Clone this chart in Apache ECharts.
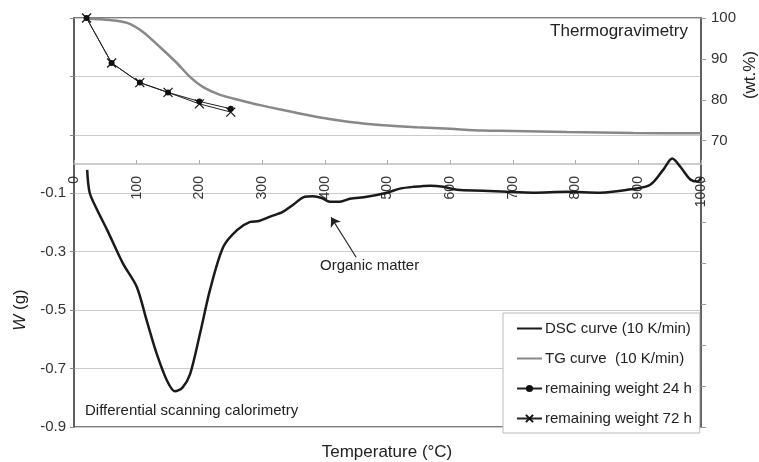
<!DOCTYPE html>
<html>
<head>
<meta charset="utf-8">
<script src="https://cdn.jsdelivr.net/npm/echarts@6/dist/echarts.min.js"></script>
<style>
  html, body { margin: 0; padding: 0; background: #fff; }
  #main { width: 759px; height: 462px; }
</style>
</head>
<body>
<div id="main"></div>
<script>
// DSC curve (left axis, W in g)
var dscTemp = [21, 25, 37, 53, 78, 100, 116, 132, 148, 161, 173, 185, 201, 217, 238, 260, 281, 295, 313, 333, 349, 368, 381, 395, 408, 424, 440, 467, 499, 520, 541, 568, 589, 611, 652, 691, 732, 786, 839, 892, 919, 940, 954, 967, 983, 994, 1000];
var dscW = [-0.02, -0.098, -0.157, -0.226, -0.34, -0.42, -0.536, -0.65, -0.74, -0.778, -0.765, -0.72, -0.58, -0.43, -0.284, -0.226, -0.198, -0.195, -0.18, -0.164, -0.14, -0.112, -0.11, -0.116, -0.129, -0.129, -0.119, -0.112, -0.098, -0.084, -0.078, -0.074, -0.078, -0.088, -0.091, -0.095, -0.098, -0.095, -0.098, -0.085, -0.071, -0.019, 0.019, -0.009, -0.053, -0.06, -0.047];

// TG curve (right axis, wt.%)
var tgTemp = [21, 57, 85, 110, 137, 164, 185, 206, 233, 265, 297, 333, 388, 440, 493, 547, 600, 652, 700, 786, 892, 1000];
var tgWt = [99.8, 99.5, 98.8, 96.6, 92.9, 89, 85.6, 83.1, 81.2, 79.9, 78.7, 77.5, 75.8, 74.6, 73.8, 73.3, 72.9, 72.5, 72.4, 72.1, 71.9, 71.8];

// remaining weight after storage
var rwTemp = [20, 60, 105, 150, 200, 250];
var rw24 = [100, 89, 84.2, 81.8, 79.6, 77.8];
var rw72 = [100, 89, 84.2, 81.8, 79.0, 77.0];

var xTicks = [0, 100, 200, 300, 400, 500, 600, 700, 800, 900, 1000];

function pairs(xs, ys) {
    var out = [];
    for (var i = 0; i < xs.length; i++) out.push([xs[i], ys[i]]);
    return out;
}

var font = "'Liberation Sans', Arial, sans-serif";
var myChart = echarts.init(document.getElementById('main'));

// plot height 409px, left axis -0.9..0.5 -> zero line sits 263px above the bottom
var zeroOffset = -409 * 0.9 / 1.4;

var option = {
    animation: false,
    textStyle: { fontFamily: font },
    grid: {
        left: 74, right: 58, top: 18, bottom: 35,
        show: true, borderColor: '#555', borderWidth: 1.5
    },
    legend: {
        left: 503, top: 313,
        orient: 'vertical',
        backgroundColor: '#fff',
        borderColor: '#bbb', borderWidth: 1,
        padding: [8, 8, 7, 13],
        itemGap: 15,
        itemWidth: 25, itemHeight: 9,
        textStyle: { fontSize: 15, color: '#222', fontFamily: font, padding: [0, 0, 0, -2] },
        data: [
            { name: 'DSC curve (10 K/min)', itemStyle: { opacity: 0 } },
            { name: 'TG curve  (10 K/min)', itemStyle: { opacity: 0 } },
            { name: 'remaining weight 24 h' },
            { name: 'remaining weight 72 h' }
        ]
    },
    xAxis: [
        {
            type: 'value',
            min: 0, max: 1000, interval: 100,
            axisLine: { show: false },
            axisTick: { show: false },
            axisLabel: { show: false },
            splitLine: { show: false }
        },
        {
            type: 'value',
            position: 'bottom',
            offset: zeroOffset,
            min: 0, max: 1000, interval: 100,
            axisLine: { show: true, onZero: false, lineStyle: { color: '#bbb', width: 1.5 } },
            axisTick: { show: true, inside: true, length: 4, lineStyle: { color: '#aaa' } },
            axisLabel: {
                rotate: 90, fontSize: 14, color: '#333', margin: 12,
                formatter: function (v) { return xTicks.indexOf(v) >= 0 ? String(v) : ''; }
            },
            splitLine: { show: false }
        }
    ],
    yAxis: [
        {
            type: 'value',
            position: 'left',
            min: -0.9, max: 0.5, interval: 0.2,
            axisLine: { show: true, onZero: false, lineStyle: { color: '#555', width: 1.5 } },
            axisTick: { show: true, length: 4, lineStyle: { color: '#888' } },
            axisLabel: {
                fontSize: 15, color: '#333', margin: 8,
                formatter: function (v) { return v < 0 ? v.toFixed(1) : ''; }
            },
            splitLine: { show: true, lineStyle: { color: '#ccc', width: 1.2 } }
        },
        {
            type: 'value',
            position: 'right',
            min: 0, max: 100, interval: 10,
            axisLine: { show: true, onZero: false, lineStyle: { color: '#555', width: 1.5 } },
            axisTick: { show: true, length: 5, lineStyle: { color: '#999' } },
            axisLabel: {
                fontSize: 15, color: '#333', margin: 10,
                formatter: function (v) { return v >= 70 ? String(v) : ''; }
            },
            splitLine: { show: false }
        }
    ],
    graphic: [
        {
            type: 'text', right: 71, top: 23,
            style: { text: 'Thermogravimetry', fill: '#222', font: '17px ' + font }
        },
        {
            type: 'text', left: 85, top: 403,
            style: { text: 'Differential scanning calorimetry', fill: '#222', font: '15px ' + font }
        },
        {
            type: 'text', left: 320, top: 258,
            style: { text: 'Organic matter', fill: '#222', font: '15px ' + font }
        },
        {
            type: 'text', x: 387, y: 452,
            style: { text: 'Temperature (°C)', fill: '#222', font: '17px ' + font, align: 'center', verticalAlign: 'middle' }
        },
        {
            type: 'text', x: 20, y: 310, rotation: Math.PI / 2,
            style: {
                text: '{i|W} (g)', fill: '#222', font: '17px ' + font, align: 'center', verticalAlign: 'middle',
                rich: { i: { fontStyle: 'italic', fontSize: 17, fontFamily: font, fill: '#222' } }
            }
        },
        {
            type: 'text', x: 750, y: 75, rotation: Math.PI / 2,
            style: { text: '(wt.%)', fill: '#222', font: '17px ' + font, align: 'center', verticalAlign: 'middle' }
        }
    ],
    series: [
        {
            name: 'DSC curve (10 K/min)',
            type: 'line', yAxisIndex: 0,
            data: pairs(dscTemp, dscW),
            smooth: 0.3, symbol: 'none',
            lineStyle: { color: '#1a1a1a', width: 2.5 },
            itemStyle: { color: '#1a1a1a' },
            z: 4,
            markLine: {
                silent: true,
                symbol: ['none', 'arrow'], symbolSize: 9,
                label: { show: false },
                lineStyle: { color: '#222', width: 1.2, type: 'solid' },
                data: [[{ coord: [450, -0.319] }, { coord: [410, -0.182] }]]
            }
        },
        {
            name: 'TG curve  (10 K/min)',
            type: 'line', yAxisIndex: 1,
            data: pairs(tgTemp, tgWt),
            smooth: 0.3, symbol: 'none',
            lineStyle: { color: '#888', width: 2.5 },
            itemStyle: { color: '#888' },
            z: 3
        },
        {
            name: 'remaining weight 24 h',
            type: 'line', yAxisIndex: 1,
            data: pairs(rwTemp, rw24),
            symbol: 'circle', symbolSize: 6,
            lineStyle: { color: '#222', width: 1 },
            itemStyle: { color: '#111' },
            z: 5
        },
        {
            name: 'remaining weight 72 h',
            type: 'line', yAxisIndex: 1,
            data: pairs(rwTemp, rw72),
            symbol: 'path://M0,0L10,10M10,0L0,10', symbolSize: 9,
            lineStyle: { color: '#222', width: 1 },
            itemStyle: { color: 'none', borderColor: '#111', borderWidth: 1.2 },
            z: 5
        }
    ]
};
myChart.setOption(option);
</script>
</body>
</html>
